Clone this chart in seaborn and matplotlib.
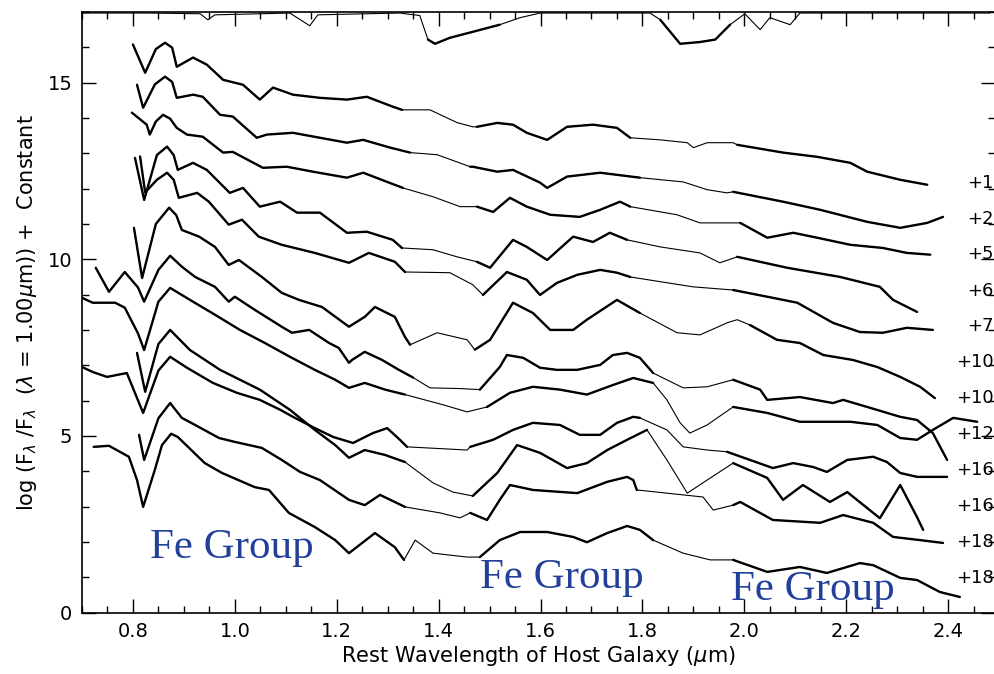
import matplotlib
matplotlib.use("Agg")
import matplotlib.pyplot as plt
import seaborn as sns
import pandas as pd
from matplotlib.ticker import MultipleLocator

# ---------------- data ----------------
# top telluric spectrum
wl_top = [0.700,0.833,0.932,0.947,0.961,1.108,1.147,1.163,1.324,1.363,1.379,1.393,1.422,1.462,1.520,1.560,1.599,1.717,1.815,1.835,1.874,1.913,1.943,1.972,2.001,2.031,2.050,2.090,2.109,2.482]
fl_top = [16.97,16.97,16.95,16.78,16.92,16.97,16.61,16.92,16.97,16.90,16.22,16.10,16.27,16.42,16.64,16.84,16.97,16.97,16.97,16.78,16.10,16.15,16.22,16.64,16.95,16.50,16.84,16.64,16.97,16.97]

wl_s1 = [0.800,0.824,0.845,0.863,0.877,0.886,0.918,0.945,0.977,1.016,1.049,1.075,1.114,1.167,1.220,1.259,1.310,1.328,1.383,1.436,1.467,1.475,1.515,1.546,1.573,1.613,1.652,1.703,1.750,1.776,1.835,1.888,1.900,1.927,1.978,1.986,2.076,2.143,2.208,2.241,2.306,2.359]
fl_s1 = [16.08,15.28,15.95,16.13,15.99,15.45,15.71,15.51,15.08,14.94,14.52,14.86,14.66,14.57,14.52,14.60,14.32,14.23,14.23,13.87,13.75,13.75,13.86,13.81,13.58,13.38,13.75,13.81,13.72,13.44,13.38,13.30,13.16,13.30,13.30,13.24,13.02,12.90,12.73,12.48,12.25,12.11]

wl_s2 = [0.808,0.820,0.843,0.863,0.877,0.886,0.918,0.937,0.971,0.996,1.043,1.063,1.114,1.167,1.220,1.252,1.305,1.344,1.397,1.462,1.467,1.515,1.546,1.599,1.613,1.652,1.717,1.795,1.880,1.927,1.966,1.978,2.076,2.149,2.241,2.306,2.359,2.390]
fl_s2 = [14.94,14.29,14.95,15.17,15.02,14.57,14.66,14.60,14.09,14.04,13.44,13.53,13.58,13.44,13.30,13.38,13.16,13.02,12.96,12.62,12.62,12.48,12.53,12.17,12.02,12.34,12.45,12.31,12.19,11.97,11.88,11.91,11.63,11.40,11.06,10.89,11.03,11.20]

wl_s3 = [0.798,0.827,0.833,0.845,0.859,0.873,0.886,0.906,0.937,0.977,0.996,1.055,1.102,1.153,1.220,1.252,1.299,1.330,1.389,1.442,1.475,1.507,1.540,1.573,1.619,1.677,1.717,1.756,1.776,1.868,1.913,1.992,2.045,2.096,2.143,2.208,2.272,2.319,2.365]
fl_s3 = [14.15,13.81,13.53,13.90,14.09,13.98,13.72,13.53,13.47,13.02,13.04,12.59,12.62,12.48,12.31,12.45,12.19,12.02,11.77,11.49,11.49,11.34,11.74,11.49,11.26,11.20,11.40,11.63,11.49,11.26,11.03,11.03,10.61,10.75,10.61,10.41,10.32,10.18,10.13]

wl_s4 = [0.804,0.822,0.847,0.867,0.880,0.888,0.918,0.945,0.990,1.016,1.049,1.089,1.122,1.167,1.220,1.259,1.310,1.328,1.389,1.436,1.475,1.501,1.546,1.573,1.613,1.664,1.703,1.736,1.770,1.835,1.913,1.952,1.986,2.084,2.188,2.266,2.292,2.339]
fl_s4 = [12.87,11.68,12.95,13.19,12.95,12.53,12.73,12.53,11.88,12.02,11.49,11.63,11.32,11.32,10.75,10.78,10.55,10.32,10.27,10.07,9.93,9.76,10.55,10.35,9.98,10.64,10.49,10.75,10.55,10.35,10.18,9.90,10.07,9.76,9.50,9.22,8.85,8.51]

wl_s5 = [0.814,0.824,0.847,0.867,0.880,0.890,0.926,0.949,0.988,1.014,1.047,1.092,1.157,1.224,1.263,1.314,1.334,1.422,1.467,1.487,1.534,1.573,1.599,1.632,1.672,1.717,1.750,1.776,1.899,1.978,2.045,2.104,2.174,2.227,2.272,2.319,2.370]
fl_s5 = [12.91,11.89,12.25,12.45,12.25,11.74,11.88,11.63,10.98,11.12,10.64,10.41,10.18,9.90,10.18,9.93,9.64,9.62,9.28,8.99,9.64,9.42,8.99,9.33,9.56,9.70,9.62,9.50,9.22,9.13,8.94,8.77,8.20,7.94,7.92,8.06,8.00]

wl_s6 = [0.802,0.818,0.845,0.871,0.885,0.896,0.930,0.961,0.988,1.008,1.053,1.092,1.126,1.171,1.224,1.255,1.275,1.314,1.334,1.344,1.397,1.456,1.471,1.501,1.546,1.585,1.619,1.664,1.691,1.750,1.795,1.868,1.913,1.966,1.986,2.011,2.064,2.109,2.155,2.213,2.261,2.306,2.345,2.374]
fl_s6 = [10.89,9.47,11.00,11.46,11.25,10.83,10.64,10.35,9.84,9.98,9.50,9.05,8.85,8.65,8.09,8.37,8.65,8.37,7.80,7.58,7.92,7.72,7.44,7.72,8.77,8.48,8.00,8.00,8.29,8.85,8.48,7.92,7.86,8.20,8.29,8.14,7.72,7.63,7.29,7.15,6.95,6.67,6.39,6.07]

wl_s7 = [0.727,0.753,0.784,0.810,0.822,0.850,0.873,0.896,0.922,0.961,0.988,1.000,1.039,1.092,1.112,1.146,1.185,1.204,1.224,1.230,1.255,1.289,1.322,1.350,1.383,1.442,1.481,1.520,1.534,1.566,1.599,1.632,1.672,1.717,1.742,1.770,1.795,1.821,1.880,1.927,1.978,2.031,2.045,2.109,2.174,2.194,2.241,2.306,2.339,2.370,2.398]
fl_s7 = [9.76,9.08,9.64,9.20,8.80,9.70,10.10,9.79,9.50,9.22,8.80,8.94,8.57,8.09,7.92,8.00,7.63,7.49,7.07,7.15,7.38,7.15,6.87,6.65,6.36,6.34,6.31,6.95,7.29,7.21,6.93,6.87,6.87,7.01,7.29,7.35,7.21,6.78,6.36,6.39,6.59,6.31,6.02,6.10,5.93,6.02,5.82,5.54,5.45,5.08,4.32]

wl_s8 = [0.700,0.721,0.765,0.784,0.810,0.822,0.850,0.873,0.912,0.961,1.010,1.059,1.108,1.157,1.197,1.224,1.255,1.295,1.334,1.409,1.456,1.495,1.540,1.585,1.638,1.691,1.742,1.782,1.821,1.848,1.874,1.893,1.927,1.978,2.045,2.109,2.208,2.261,2.306,2.339,2.370,2.410,2.457]
fl_s8 = [8.91,8.77,8.77,8.63,7.90,7.43,8.80,9.19,8.85,8.43,8.00,7.63,7.24,6.87,6.59,6.36,6.50,6.31,6.17,5.88,5.68,5.82,6.22,6.39,6.31,6.17,6.44,6.64,6.50,6.02,5.37,5.08,5.31,5.82,5.65,5.40,5.40,5.31,4.94,4.89,5.17,5.51,5.40]

wl_s9 = [0.808,0.824,0.850,0.873,0.912,0.971,1.049,1.108,1.157,1.197,1.224,1.255,1.295,1.334,1.389,1.428,1.467,1.515,1.554,1.599,1.652,1.691,1.731,1.770,1.809,1.848,1.888,1.927,1.978,2.045,2.076,2.115,2.168,2.202,2.266,2.306,2.339,2.351]
fl_s9 = [7.35,6.25,7.60,8.00,7.43,6.87,6.31,5.74,5.17,4.74,4.38,4.60,4.46,4.26,3.67,3.41,3.30,3.95,4.74,4.52,4.09,4.23,4.60,4.89,5.17,4.32,3.38,3.75,4.23,3.81,3.19,3.61,3.13,3.41,2.67,3.61,2.70,2.34]

wl_s10 = [0.700,0.721,0.749,0.788,0.820,0.850,0.873,0.906,0.957,1.004,1.049,1.089,1.114,1.153,1.193,1.232,1.271,1.299,1.324,1.338,1.456,1.462,1.507,1.546,1.585,1.638,1.677,1.717,1.750,1.782,1.795,1.848,1.880,1.927,1.966,2.011,2.056,2.096,2.135,2.162,2.202,2.253,2.280,2.306,2.339,2.398]
fl_s10 = [6.95,6.81,6.67,6.78,5.65,6.85,7.24,6.93,6.50,6.22,6.02,5.74,5.54,5.25,4.97,4.80,5.08,5.22,4.89,4.69,4.60,4.69,4.89,5.17,5.37,5.31,5.03,5.03,5.37,5.54,5.51,5.17,4.69,4.60,4.55,4.32,4.09,4.23,4.12,3.98,4.32,4.41,4.26,3.95,3.84,3.84]

wl_s11 = [0.812,0.822,0.850,0.873,0.896,0.922,0.969,1.000,1.053,1.092,1.128,1.167,1.224,1.255,1.285,1.334,1.403,1.442,1.462,1.495,1.520,1.540,1.585,1.672,1.731,1.770,1.782,1.789,1.919,1.939,1.978,1.992,2.056,2.149,2.194,2.253,2.292,2.345,2.390]
fl_s11 = [5.03,4.32,5.50,5.93,5.51,5.31,4.94,4.83,4.66,4.32,3.98,3.75,3.19,3.04,3.33,2.99,2.82,2.68,2.82,2.62,3.19,3.61,3.47,3.38,3.70,3.84,3.75,3.47,3.27,2.90,3.04,3.13,2.62,2.54,2.76,2.54,2.14,2.05,1.97]

wl_s12 = [0.723,0.753,0.792,0.808,0.820,0.843,0.857,0.875,0.888,0.941,0.975,1.039,1.067,1.106,1.157,1.197,1.224,1.275,1.314,1.332,1.354,1.389,1.456,1.481,1.520,1.560,1.613,1.664,1.691,1.731,1.770,1.795,1.821,1.880,1.933,1.978,2.045,2.109,2.162,2.227,2.253,2.306,2.339,2.384,2.423]
fl_s12 = [4.69,4.72,4.41,3.75,2.99,4.04,4.74,5.06,4.97,4.23,3.95,3.55,3.47,2.82,2.42,2.05,1.68,2.25,1.85,1.49,2.05,1.68,1.57,1.57,2.05,2.28,2.28,2.14,1.99,2.25,2.45,2.34,2.05,1.68,1.49,1.49,1.15,1.29,1.12,1.40,1.34,0.98,0.92,0.58,0.44]

# observed (data-covered) wavelength bands of each spectrum
bands_top = [(1.37, 1.53), (1.83, 1.98)]
bands_s1 = [(0.80, 1.33), (1.47, 1.78), (1.98, 2.36)]
bands_s2 = [(0.80, 1.345), (1.46, 1.80), (1.97, 2.39)]
bands_s3 = [(0.79, 1.33), (1.47, 1.78), (1.99, 2.37)]
bands_s4 = [(0.80, 1.33), (1.47, 1.77), (1.98, 2.34)]
bands_s5 = [(0.81, 1.335), (1.48, 1.78), (1.97, 2.37)]
bands_s6 = [(0.80, 1.345), (1.47, 1.80), (1.99, 2.375)]
bands_s7 = [(0.72, 1.35), (1.48, 1.83), (1.97, 2.40)]
bands_s8 = [(0.70, 1.335), (1.49, 1.83), (1.97, 2.46)]
bands_s9 = [(0.80, 1.335), (1.46, 1.82), (1.97, 2.36)]
bands_s10 = [(0.70, 1.34), (1.46, 1.80), (1.96, 2.40)]
bands_s11 = [(0.81, 1.335), (1.46, 1.79), (1.975, 2.39)]
bands_s12 = [(0.72, 1.335), (1.48, 1.83), (1.97, 2.43)]

offset_labels = ["+1", "+2", "+5", "+6", "+7", "+10", "+10", "+12", "+16", "+16", "+18", "+18"]
offset_label_y = [12.17, 11.15, 10.16, 9.11, 8.12, 7.10, 6.08, 5.06, 4.04, 3.02, 2.00, 0.98]

group_text = ["Fe Group", "Fe Group", "Fe Group"]
group_x = [0.994, 1.642, 2.135]
group_y = [1.82, 0.98, 0.64]

# ---------------- plotting ----------------
sns.set_theme(style="white")
plt.rcParams["font.family"] = ["DejaVu Sans"]
plt.rcParams["mathtext.fontset"] = "dejavusans"
plt.rcParams["text.color"] = "black"
plt.rcParams["axes.labelcolor"] = "black"
plt.rcParams["xtick.color"] = "black"
plt.rcParams["ytick.color"] = "black"

fig = plt.figure(figsize=(9.95, 6.74), dpi=100)
ax = fig.add_axes([0.0824, 0.0912, 0.9176, 0.891])

spectra = [
    (wl_top, fl_top, bands_top),
    (wl_s1, fl_s1, bands_s1), (wl_s2, fl_s2, bands_s2), (wl_s3, fl_s3, bands_s3),
    (wl_s4, fl_s4, bands_s4), (wl_s5, fl_s5, bands_s5), (wl_s6, fl_s6, bands_s6),
    (wl_s7, fl_s7, bands_s7), (wl_s8, fl_s8, bands_s8), (wl_s9, fl_s9, bands_s9),
    (wl_s10, fl_s10, bands_s10), (wl_s11, fl_s11, bands_s11), (wl_s12, fl_s12, bands_s12),
]

for wl, fl, bands in spectra:
    df = pd.DataFrame({"wl": wl, "fl": fl})
    sns.lineplot(data=df, x="wl", y="fl", ax=ax, color="black", lw=0.8,
                 estimator=None, sort=False, legend=False)
    for lo, hi in bands:
        seg = df[(df.wl >= lo) & (df.wl <= hi)]
        if len(seg) >= 2:
            sns.lineplot(data=seg, x="wl", y="fl", ax=ax, color="black", lw=1.7,
                         estimator=None, sort=False, legend=False)

for t, y in zip(offset_labels, offset_label_y):
    ax.text(2.49, y, t, ha="right", va="center", fontsize=13, color="black",
            clip_on=False)

for t, x, y in zip(group_text, group_x, group_y):
    ax.text(x, y, t, ha="center", va="center", fontsize=31, color="#22409a",
            family="Liberation Serif")

ax.set_xlim(0.70, 2.492)
ax.set_ylim(0, 17)
ax.xaxis.set_major_locator(MultipleLocator(0.2))
ax.xaxis.set_minor_locator(MultipleLocator(0.05))
ax.yaxis.set_major_locator(MultipleLocator(5))
ax.yaxis.set_minor_locator(MultipleLocator(1))
ax.xaxis.set_major_formatter(matplotlib.ticker.FormatStrFormatter("%.1f"))
ax.yaxis.set_major_formatter(matplotlib.ticker.FormatStrFormatter("%d"))
ax.tick_params(which="both", direction="in", top=True, right=True,
               bottom=True, left=True, color="black", labelcolor="black", width=1)
ax.tick_params(which="major", length=10, labelsize=14, pad=7)
ax.tick_params(which="minor", length=5)
for sp in ax.spines.values():
    sp.set_color("black")
    sp.set_linewidth(1.2)

ax.set_xlabel(r"Rest Wavelength of Host Galaxy ($\mu$m)", fontsize=15, labelpad=2,
              color="black")
ax.set_ylabel(r"log (F$_\lambda$ /F$_\lambda$  ($\lambda$ = 1.00$\mu$m)) +  Constant",
              fontsize=15, labelpad=6, color="black")

fig.savefig("out.png", dpi=100)
